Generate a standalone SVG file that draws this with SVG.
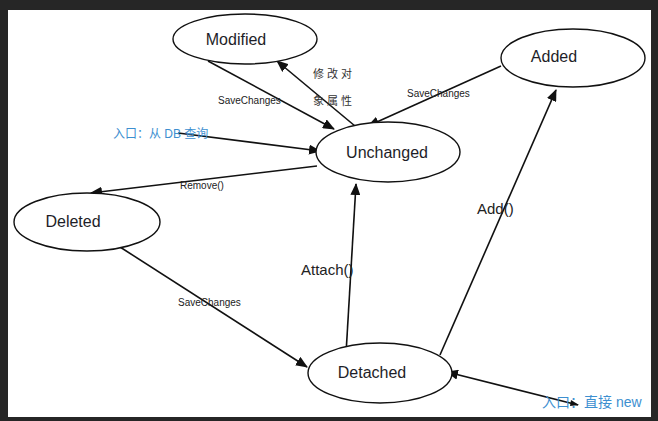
<svg xmlns="http://www.w3.org/2000/svg" width="658" height="421" viewBox="0 0 658 421">
<style>
.node ellipse{fill:#fff;stroke:#111;stroke-width:1.4}
.node text{font-family:"Liberation Sans",Arial,sans-serif;font-size:16px;fill:#1e1e28;text-anchor:middle}
.conn line{stroke:#111;stroke-width:1.6}
.lbl{font-family:"Liberation Sans",Arial,sans-serif;font-size:10px;fill:#222}
.big{font-family:"Liberation Sans",Arial,sans-serif;font-size:15px;fill:#222}
.cjk{font-family:"Noto Sans CJK SC","Noto Sans",sans-serif;font-size:11px;fill:#333;letter-spacing:3px}
.entry{font-family:"Liberation Sans","Noto Sans CJK SC",sans-serif;font-size:12px;fill:#3d8fd0}
</style>
<defs>
<marker id="ah" markerUnits="userSpaceOnUse" markerWidth="12" markerHeight="10" refX="11" refY="5" orient="auto">
<path d="M0,0 L12,5 L0,10 Z" fill="#111"/>
</marker>
</defs>
<rect x="0" y="0" width="658" height="421" fill="#262626"/>
<rect x="8" y="10" width="643" height="407" fill="#fff"/>

<g class="conn">
<line x1="208" y1="61" x2="334" y2="129" marker-end="url(#ah)"/>
<line x1="355" y1="126" x2="277" y2="61" marker-end="url(#ah)"/>
<line x1="501" y1="66" x2="368" y2="126" marker-end="url(#ah)"/>
<line x1="178" y1="133" x2="320" y2="151" marker-end="url(#ah)"/>
<line x1="317" y1="166" x2="91" y2="193" marker-end="url(#ah)"/>
<line x1="120" y1="247" x2="307" y2="367" marker-end="url(#ah)"/>
<line x1="346" y1="354" x2="356" y2="184" marker-end="url(#ah)"/>
<line x1="440" y1="355" x2="556" y2="90" marker-end="url(#ah)"/>
<line x1="578" y1="405" x2="447" y2="372" marker-end="url(#ah)"/>
<path d="M571,400 L579,405 L570,406 Z" fill="#111"/>
</g>

<g id="modified" class="node"><ellipse cx="245" cy="39" rx="72" ry="25"/><text x="236" y="45">Modified</text></g>
<g id="added" class="node"><ellipse cx="573" cy="58" rx="72" ry="29"/><text x="554" y="62">Added</text></g>
<g id="unchanged" class="node"><ellipse cx="388" cy="152" rx="72" ry="30"/><text x="387" y="158">Unchanged</text></g>
<g id="deleted" class="node"><ellipse cx="87" cy="222" rx="73" ry="29"/><text x="73" y="227">Deleted</text></g>
<g id="detached" class="node"><ellipse cx="380" cy="373" rx="72" ry="30"/><text x="372" y="378">Detached</text></g>

<g id="labels">
<text class="lbl" x="218" y="104">SaveChanges</text>
<text class="cjk" x="313" y="78">修改对</text>
<text class="cjk" x="313" y="105">象属性</text>
<text class="lbl" x="407" y="97">SaveChanges</text>
<text class="lbl" x="180" y="189">Remove()</text>
<text class="lbl" x="178" y="306">SaveChanges</text>
<text class="big" x="301" y="275">Attach()</text>
<text class="big" x="477" y="214">Add()</text>
<text class="entry" x="113" y="138">入口：从 DB 查询</text>
<text class="entry" x="542" y="407" style="font-size:14px">入口：直接 new</text>
</g>
</svg>
